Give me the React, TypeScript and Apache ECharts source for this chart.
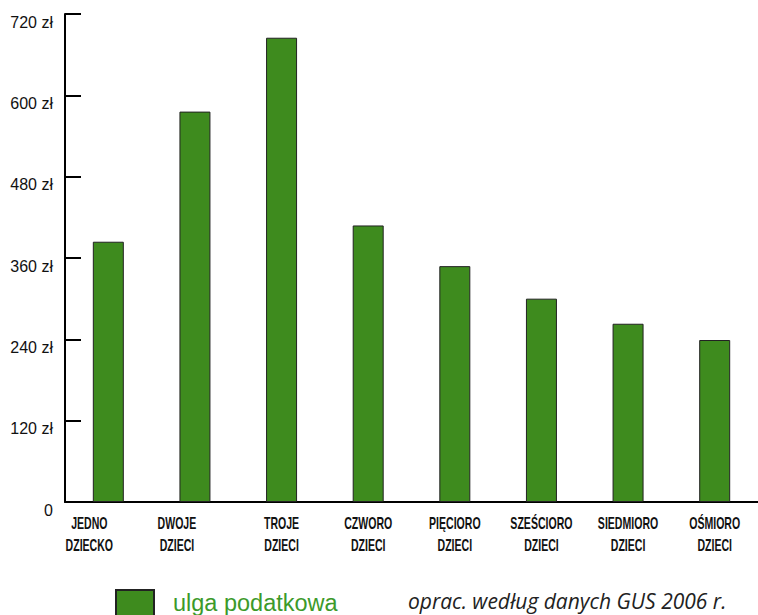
import React, { useEffect, useRef } from "react";
import * as echarts from "echarts";

// Categories: number of children in the family
const categories = [
  "JEDNO\nDZIECKO",
  "DWOJE\nDZIECI",
  "TROJE\nDZIECI",
  "CZWORO\nDZIECI",
  "PIĘCIORO\nDZIECI",
  "SZEŚCIORO\nDZIECI",
  "SIEDMIORO\nDZIECI",
  "OŚMIORO\nDZIECI",
];

// Tax relief per family (zł)
const ulgaValues = [384, 576, 685, 408, 348, 300, 263, 239];

// Y axis scale
const yMin = 0;
const yMax = 720;
const yStep = 120;

const seriesName = "ulga podatkowa";
const sourceNote = "oprac. według danych GUS 2006 r.";

// horizontal nudge of each category label (px)
const labelShift = [-19, -18, 0, 0, 0, 0, 0, 0];

const GREEN = "#3e8b1e";
const LEGEND_GREEN = "#3c9a2a";

export default function App() {
  const ref = useRef<HTMLDivElement>(null);

  useEffect(() => {
    if (!ref.current) return;
    const chart = echarts.init(ref.current, null, { renderer: "svg" });

    chart.setOption({
      animation: false,
      backgroundColor: "#ffffff",
      grid: { left: 65, right: -5, top: 14, bottom: 113 },
      legend: {
        show: true,
        left: 115,
        top: 589,
        padding: 0,
        itemWidth: 38,
        itemHeight: 26,
        icon: "rect",
        data: [seriesName],
        textStyle: {
          color: LEGEND_GREEN,
          fontSize: 23.5,
          fontFamily: "Liberation Sans, Arial, sans-serif",
          padding: [0, 0, 0, 14],
        },
      },
      xAxis: {
        type: "category",
        data: categories,
        axisLine: { lineStyle: { color: "#000", width: 2 } },
        axisTick: { inside: true, length: 12, lineStyle: { color: "#000", width: 2 } },
        axisLabel: { show: false },
      },
      yAxis: {
        type: "value",
        min: yMin,
        max: yMax,
        interval: yStep,
        splitLine: { show: false },
        axisLine: { show: true, lineStyle: { color: "#000", width: 2 } },
        axisTick: { show: true, inside: true, length: 16, lineStyle: { color: "#000", width: 2 } },
        axisLabel: {
          margin: 12,
          color: "#111",
          fontSize: 16,
          lineHeight: 16,
          verticalAlign: "top",
          fontFamily: "Liberation Sans, Arial, sans-serif",
          formatter: (v: number) => (v === 0 ? "0" : `${v} zł`),
        },
      },
      series: [
        {
          name: seriesName,
          type: "bar",
          data: ulgaValues,
          barWidth: 31,
          itemStyle: { color: GREEN, borderColor: "#222", borderWidth: 1 },
        },
      ],
    });

    // Category labels: condensed bold caps, placed under each category via the x axis scale
    const axisY = chart.convertToPixel({ yAxisIndex: 0 }, yMin) as number;
    const labelTexts = categories.map((c, i) => {
      const cx = chart.convertToPixel({ xAxisIndex: 0 }, i) as number;
      return {
        type: "text",
        x: cx + labelShift[i],
        y: axisY + 11,
        scaleX: 0.66,
        silent: true,
        style: {
          text: c,
          align: "center",
          verticalAlign: "top",
          fill: "#111",
          fontSize: 16,
          fontWeight: "bold",
          lineHeight: 22,
          fontFamily: "Liberation Sans, Arial, sans-serif",
        },
      };
    });

    chart.setOption({
      graphic: [
        {
          type: "text",
          x: 408,
          y: 611,
          silent: true,
          style: {
            text: sourceNote,
            fill: "#222",
            fontSize: 21,
            fontStyle: "italic",
            verticalAlign: "bottom",
            lineHeight: 21,
            fontFamily: "Open Sans, sans-serif",
          },
        },
        ...labelTexts,
      ],
    });

    return () => chart.dispose();
  }, []);

  return <div ref={ref} style={{ width: 758, height: 615, position: "absolute", left: 0, top: 0 }} />;
}
